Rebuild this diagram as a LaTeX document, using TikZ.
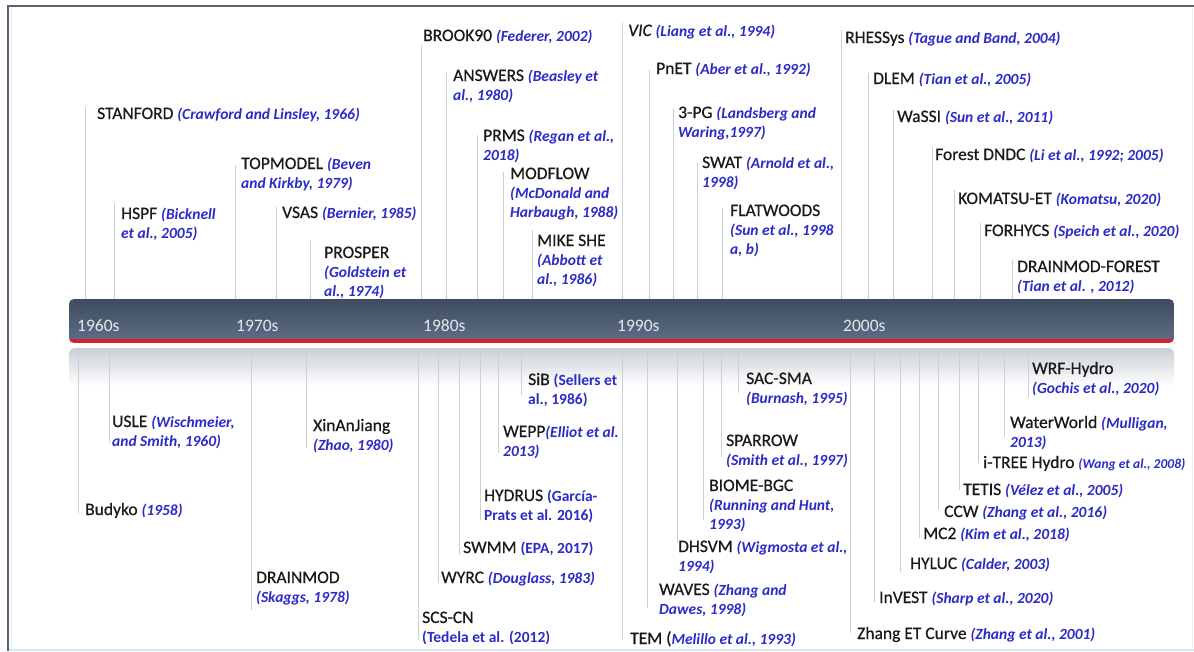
\documentclass[tikz,border=0pt]{standalone}
\usepackage{fontspec}
\setmainfont{Carlito}
\newfontfamily\namefont{Carlito}[FakeBold=0.6]
\definecolor{namecol}{HTML}{1A1A1A}
\definecolor{citecol}{HTML}{2B2BC8}
\definecolor{tickcol}{HTML}{C9D0DA}
\definecolor{bartop}{HTML}{3F4C5F}
\definecolor{barbot}{HTML}{5C6C83}
\definecolor{barred}{HTML}{D0232E}
\definecolor{framecol}{HTML}{5A6270}
\definecolor{yearcol}{HTML}{E4E8EE}
\definecolor{reflcol}{HTML}{CACFD6}
\newcommand\mname[1]{{\namefont\color{namecol}#1}}
\newcommand\mcite[1]{{\fontsize{15.5}{19}\selectfont\bfseries\itshape\color{citecol}#1}}
\newcommand\mcitesm[1]{{\fontsize{13.5}{19}\selectfont\bfseries\itshape\color{citecol}#1}}
\newcommand\mciteup[1]{{\fontsize{15.5}{19}\selectfont\bfseries\color{citecol}#1}}
\newcommand\ml[1]{\begin{tabular}[t]{@{}l@{}}#1\end{tabular}}
% name, line x, line end y, text x, baseline y, text
\newcommand\topitem[6]{%
  \coordinate (#1-b) at (#2,299);
  \coordinate (#1-t) at (#2,#3);
  \draw[tick] (#1-b) -- (#1-t);
  \node[lbl] (#1) at (#4,#5) {#6};
}
\newcommand\botitem[6]{%
  \coordinate (#1-b) at (#2,350);
  \coordinate (#1-t) at (#2,#3);
  \draw[tick] (#1-b) -- (#1-t);
  \node[lbl] (#1) at (#4,#5) {#6};
}
\begin{document}
\begin{tikzpicture}[x=1pt,y=-1pt,
  tick/.style={draw=tickcol,line width=1pt},
  lbl/.style={anchor=base west,inner sep=0pt,font={\fontsize{17.5}{19}\selectfont}},
  yearlbl/.style={anchor=base west,inner sep=0pt,text=yearcol,font={\fontsize{17.5}{19}\selectfont}}]
\useasboundingbox (0,0) rectangle (1194,651);
\fill[white] (0,0) rectangle (1194,651);
% frame
\draw[line width=0.8pt,draw=black!8] (1192,7) -- (1192,648);
\draw[line width=2pt,draw={rgb,255:red,214;green,232;blue,240}] (9,650) -- (1194,650);
\draw[line width=1pt,draw={rgb,255:red,220;green,236;blue,244}] (11,8) -- (11,648);
\draw[line width=2pt,draw=framecol] (8,651) -- (8,6) -- (1194,6);
% reflection band
\shade[top color=reflcol,bottom color=white,rounded corners=6pt] (69,348) rectangle (1174,386);
% ticks and labels above
\topitem{stan}{85}{107}{97}{119}{\mname{STANFORD} \mcite{(Crawford and Linsley, 1966)}}
\topitem{hspf}{114}{203}{121}{219}{\ml{\mname{HSPF} \mcite{(Bicknell}\\\mcite{et al., 2005)}}}
\topitem{topm}{235}{165}{241}{169}{\ml{\mname{TOPMODEL} \mcite{(Beven}\\\mcite{and Kirkby, 1979)}}}
\topitem{vsas}{276}{207}{282}{218}{\mname{VSAS} \mcite{(Bernier, 1985)}}
\topitem{prosper}{310}{240}{324}{258}{\ml{\mname{PROSPER}\\\mcite{(Goldstein et}\\\mcite{al., 1974)}}}
\topitem{brook}{421}{45}{423}{41}{\mname{BROOK90} \mcite{(Federer, 2002)}}
\topitem{answers}{446}{72}{453}{81}{\ml{\mname{ANSWERS} \mcite{(Beasley et}\\\mcite{al., 1980)}}}
\topitem{prms}{477}{135}{483}{141}{\ml{\mname{PRMS} \mcite{(Regan et al.,}\\\mcite{2018)}}}
\topitem{modflow}{503}{172}{510}{179}{\ml{\mname{MODFLOW}\\\mcite{(McDonald and}\\\mcite{Harbaugh, 1988)}}}
\topitem{mike}{532}{230}{537}{246}{\ml{\mname{MIKE SHE}\\\mcite{(Abbott et}\\\mcite{al., 1986)}}}
\topitem{vic}{622}{23}{628}{36}{\mname{\itshape VIC} \mcite{(Liang et al., 1994)}}
\topitem{pnet}{649}{70}{656}{74}{\mname{PnET} \mcite{(Aber et al., 1992)}}
\topitem{pg}{673}{108}{678}{118}{\ml{\mname{3-PG} \mcite{(Landsberg and}\\\mcite{Waring,1997)}}}
\topitem{swat}{697}{163}{702}{168}{\ml{\mname{SWAT} \mcite{(Arnold et al.,}\\\mcite{1998)}}}
\topitem{flat}{722}{208}{730}{216}{\ml{\mname{FLATWOODS}\\\mcite{(Sun et al., 1998}\\\mcite{a, b)}}}
\topitem{rhes}{841}{30}{845}{43}{\mname{RHESSys} \mcite{(Tague and Band, 2004)}}
\topitem{dlem}{868}{73}{873}{84}{\mname{DLEM} \mcite{(Tian et al., 2005)}}
\topitem{wassi}{893}{110}{897}{122}{\mname{WaSSI} \mcite{(Sun et al., 2011)}}
\topitem{fdndc}{932}{147}{935}{160}{\mname{Forest DNDC} \mcite{(Li et al., 1992; 2005)}}
\topitem{koma}{954}{190}{958}{204}{\mname{KOMATSU-ET} \mcite{(Komatsu, 2020)}}
\topitem{forh}{980}{223}{984}{236}{\mname{FORHYCS} \mcite{(Speich et al., 2020)}}
\topitem{dmf}{1012}{260}{1017}{272}{\ml{\mname{DRAINMOD-FOREST}\\\mcite{(Tian et al. , 2012)}}}
% ticks and labels below
\botitem{budyko}{78}{513}{85}{515}{\mname{Budyko} \mcite{(1958)}}
\botitem{usle}{109}{443}{112}{427}{\ml{\mname{USLE} \mcite{(Wischmeier,}\\\mcite{and Smith, 1960)}}}
\botitem{drainmod}{251}{610}{256}{583}{\ml{\mname{DRAINMOD}\\\mcite{(Skaggs, 1978)}}}
\botitem{xaj}{306}{448}{313}{431}{\ml{\mname{XinAnJiang}\\\mcite{(Zhao, 1980)}}}
\botitem{scs}{418}{640}{422}{623}{\ml{\mname{SCS-CN}\\\mciteup{(Tedela et al. (2012)}}}
\botitem{wyrc}{438}{583}{441}{583}{\mname{WYRC} \mcite{(Douglass, 1983)}}
\botitem{swmm}{459}{555}{463}{553}{\mname{SWMM} \mciteup{(EPA, 2017)}}
\botitem{hydrus}{480}{520}{484}{501}{\ml{\mname{HYDRUS} \mciteup{(García-}\\\mciteup{Prats et al. 2016)}}}
\botitem{wepp}{498}{453}{503}{437}{\ml{\mname{WEPP}\mcite{(Elliot et al.}\\\mcite{2013)}}}
\botitem{sib}{521}{395}{528}{385}{\ml{\mname{SiB} \mciteup{(Sellers et}\\\mciteup{al., 1986)}}}
\botitem{tem}{622}{640}{630}{644}{\mname{TEM (}\mcite{Melillo et al., 1993)}}
\botitem{waves}{647}{608}{659}{595}{\ml{\mname{WAVES} \mcite{(Zhang and}\\\mcite{Dawes, 1998)}}}
\botitem{dhsvm}{677}{543}{678}{552}{\ml{\mname{DHSVM} \mcite{(Wigmosta et al.,}\\\mcite{1994)}}}
\botitem{biome}{703}{520}{709}{491}{\ml{\mname{BIOME-BGC}\\\mcite{(Running and Hunt,}\\\mcite{1993)}}}
\botitem{sparrow}{721}{457}{726}{446}{\ml{\mname{SPARROW}\\\mcite{(Smith et al., 1997)}}}
\botitem{sac}{738}{393}{746}{384}{\ml{\mname{SAC-SMA}\\\mcite{(Burnash, 1995)}}}
\botitem{zhang}{850}{633}{857}{639}{\mname{Zhang ET Curve} \mcite{(Zhang et al., 2001)}}
\botitem{invest}{874}{602}{879}{603}{\mname{InVEST} \mcite{(Sharp et al., 2020)}}
\botitem{hyluc}{900}{572}{910}{569}{\mname{HYLUC} \mcite{(Calder, 2003)}}
\botitem{mc}{919}{538}{923}{539}{\mname{MC2} \mcite{(Kim et al., 2018)}}
\botitem{ccw}{938}{510}{944}{517}{\mname{CCW} \mcite{(Zhang et al., 2016)}}
\botitem{tetis}{959}{490}{963}{495}{\mname{TETIS} \mcite{(Vélez et al., 2005)}}
\botitem{itree}{978}{463}{983}{468}{\mname{i-TREE Hydro} \mcitesm{(Wang et al., 2008)}}
\botitem{ww}{1004}{437}{1010}{428}{\ml{\mname{WaterWorld} \mcite{(Mulligan,}\\\mcite{2013)}}}
\botitem{wrf}{1028}{398}{1032}{374}{\ml{\mname{WRF-Hydro}\\\mcite{(Gochis et al., 2020)}}}
% timeline bar
\begin{scope}
\clip[rounded corners=5pt] (69,299) rectangle (1174,343);
\shade[top color=bartop,bottom color=barbot] (69,299) rectangle (1174,339);
\fill[barred] (69,339) rectangle (1174,343);
\end{scope}
\node[yearlbl] (y60) at (77,331) {1960s};
\node[yearlbl] (y70) at (236,331) {1970s};
\node[yearlbl] (y80) at (423,331) {1980s};
\node[yearlbl] (y90) at (617,331) {1990s};
\node[yearlbl] (y00) at (843,331) {2000s};
\end{tikzpicture}
\end{document}
